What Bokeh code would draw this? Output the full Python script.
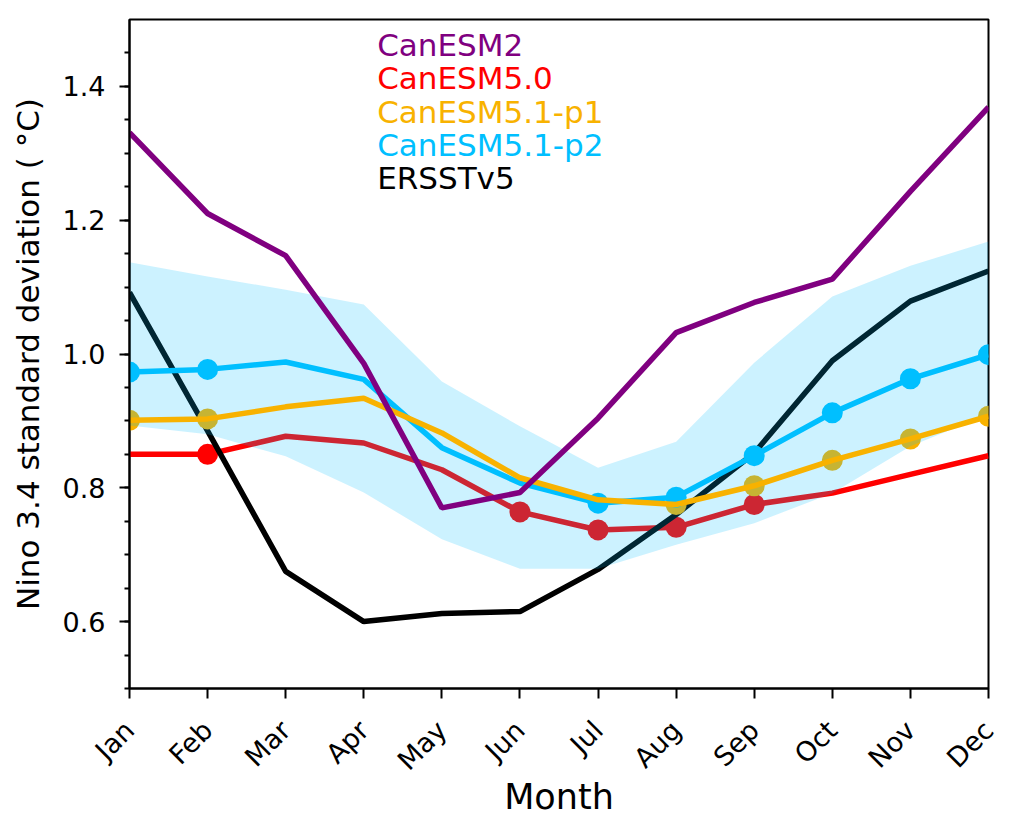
from bokeh.plotting import figure
from bokeh.models import (Range1d, FixedTicker, SingleIntervalTicker, Label,
                          NumeralTickFormatter)
from bokeh.embed import file_html
from bokeh.resources import INLINE
from math import pi

months = ["Jan", "Feb", "Mar", "Apr", "May", "Jun", "Jul", "Aug", "Sep", "Oct", "Nov", "Dec"]
canesm2 = [1.331, 1.210, 1.147, 0.986, 0.770, 0.793, 0.904, 1.032, 1.077, 1.112, 1.243, 1.369]
canesm50 = [0.850, 0.850, 0.877, 0.867, 0.827, 0.764, 0.737, 0.741, 0.775, 0.792, 0.820, 0.848]
canesm51_p1 = [0.901, 0.903, 0.921, 0.934, 0.882, 0.815, 0.782, 0.775, 0.803, 0.841, 0.873, 0.907]
canesm51_p2 = [0.973, 0.977, 0.988, 0.962, 0.860, 0.807, 0.777, 0.786, 0.848, 0.912, 0.963, 0.999]
ersst = [1.092, 0.885, 0.675, 0.600, 0.612, 0.615, 0.678, 0.760, 0.852, 0.990, 1.079, 1.124]
p2_band_hi = [1.137, 1.116, 1.096, 1.074, 0.959, 0.892, 0.830, 0.869, 0.987, 1.086, 1.132, 1.168]
p2_band_lo = [0.893, 0.880, 0.847, 0.793, 0.723, 0.679, 0.679, 0.715, 0.747, 0.792, 0.862, 0.910]
# months (index) flagged with markers
canesm50_marked = [1, 5, 6, 7, 8]
p1_marked = [0, 1, 7, 8, 9, 10, 11]
p2_marked = [0, 1, 6, 7, 8, 9, 10, 11]

series_names = ["CanESM2", "CanESM5.0", "CanESM5.1-p1", "CanESM5.1-p2", "ERSSTv5"]
series_colors = ["#800080", "#FF0000", "#F8B200", "#00BFFF", "#000000"]

x = list(range(len(months)))

p = figure(width=1017, height=819, output_backend="svg", toolbar_location=None,
           x_range=Range1d(0, 11), y_range=Range1d(0.5, 1.5),
           min_border_left=129, min_border_top=19, min_border_right=29, min_border_bottom=130)
p.background_fill_color = "white"
p.border_fill_color = "white"
p.outline_line_color = "black"
p.outline_line_width = 2
p.xgrid.visible = False
p.ygrid.visible = False

lw = 5.5
ms = 21

# CanESM5.0 (under shading)
p.line(x, canesm50, line_color=series_colors[1], line_width=lw)
p.scatter([x[i] for i in canesm50_marked], [canesm50[i] for i in canesm50_marked],
          size=ms, fill_color=series_colors[1], line_color=None)
# ERSSTv5
p.line(x, ersst, line_color=series_colors[4], line_width=lw)
# p1 markers
p.scatter([x[i] for i in p1_marked], [canesm51_p1[i] for i in p1_marked],
          size=ms, fill_color=series_colors[2], line_color=None)
# spread band
p.varea(x=x, y1=p2_band_lo, y2=p2_band_hi, fill_color="#00BFFF", fill_alpha=0.2)
# p2
p.line(x, canesm51_p2, line_color=series_colors[3], line_width=lw)
p.scatter([x[i] for i in p2_marked], [canesm51_p2[i] for i in p2_marked],
          size=ms, fill_color=series_colors[3], line_color=None)
# p1 line
p.line(x, canesm51_p1, line_color=series_colors[2], line_width=lw)
# CanESM2
p.line(x, canesm2, line_color=series_colors[0], line_width=lw)

# legend as coloured texts
for k, (name, col) in enumerate(zip(series_names, series_colors)):
    p.add_layout(Label(x=3.172, y=1.462 - 0.0498 * k, text=name, text_color=col,
                       text_font="DejaVu Sans", text_font_size="31px",
                       text_baseline="alphabetic", text_align="left"))

ax = p.xaxis[0]
ax.ticker = FixedTicker(ticks=x)
ax.major_label_overrides = {i: m for i, m in enumerate(months)}
ax.major_label_orientation = pi / 4
ax.minor_tick_line_color = None
ax.axis_label = "Month"
ax.axis_label_text_font = "DejaVu Sans"
ax.axis_label_text_font_style = "normal"
ax.axis_label_text_font_size = "35px"
ax.major_label_text_font = "DejaVu Sans"
ax.major_label_text_font_size = "27px"
ax.major_tick_out = 10
ax.major_tick_in = 0
ax.major_tick_line_width = 2
ax.axis_line_width = 2
ax.major_label_standoff = 27
ax.axis_label_standoff = -13

ay = p.yaxis[0]
ay.ticker = SingleIntervalTicker(interval=0.2, num_minor_ticks=4)
ay.formatter = NumeralTickFormatter(format="0.0")
ay.axis_label = "Nino 3.4 standard deviation ( °C)"
ay.axis_label_text_font = "DejaVu Sans"
ay.axis_label_text_font_style = "normal"
ay.axis_label_text_font_size = "31px"
ay.major_label_text_font = "DejaVu Sans"
ay.major_label_text_font_size = "27px"
ay.major_tick_out = 10
ay.major_tick_in = 0
ay.minor_tick_out = 5
ay.minor_tick_in = 0
ay.major_tick_line_width = 2
ay.minor_tick_line_width = 2
ay.axis_line_width = 2
ay.major_label_standoff = 14
ay.axis_label_standoff = 14

for a in (ax, ay):
    a.major_label_text_color = "black"
    a.axis_label_text_color = "black"

open("out.html", "w").write(file_html(p, INLINE))
